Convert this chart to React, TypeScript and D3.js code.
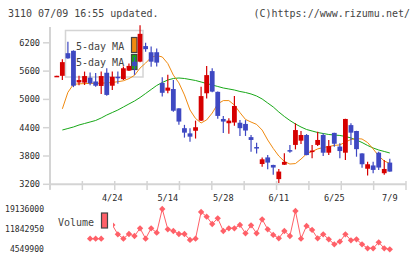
import * as d3 from 'd3';

// daily candles (i = 0 .. 60)
const opens = [5495, 5500, 5980, 6030, 5360, 5355, 5460, 5380, 5285, 5565, 5290, 5480, 5430, 5610, 5800, 5800, 6130, 6000, 6000, 5350, 5185, 5220, 4810, 4390, 4280, 4335, 4550, 5130, 5600, 5160, 4585, 4495, 4510, 4505, 4480, 4200, 3990, 3630, 3770, 3610, 3310, 3615, 3925, 4035, 4125, 4245, 3905, 4035, 4245, 3870, 4290, 4000, 3870, 4455, 4330, 3855, 3530, 3600, 3870, 3435, 3660];
const highs = [5500, 5850, 6220, 6040, 5500, 5590, 5570, 5560, 5590, 5660, 5590, 5590, 5700, 5760, 5900, 6570, 6200, 6120, 6080, 5470, 5520, 5410, 4815, 4460, 4390, 4550, 5270, 5710, 5660, 5165, 4650, 4600, 5070, 4565, 4560, 4245, 4080, 3770, 3820, 3615, 3525, 3860, 4035, 4495, 4330, 4265, 4035, 4315, 4280, 4140, 4295, 4070, 4590, 4495, 4335, 3860, 3680, 3680, 3890, 3715, 3740];
const lows = [5495, 5410, 5860, 5260, 5300, 5305, 5300, 5270, 5115, 5080, 5200, 5330, 5410, 5600, 5520, 5790, 6010, 5690, 5700, 5060, 5130, 4740, 4460, 4190, 4100, 4170, 4540, 5020, 5150, 4590, 4290, 4270, 4440, 4225, 4225, 3890, 3855, 3570, 3520, 3400, 3225, 3610, 3870, 3940, 4055, 3815, 3750, 4010, 3800, 3820, 3995, 3750, 3715, 4035, 3785, 3550, 3385, 3435, 3505, 3400, 3465];
const closes = [5500, 5790, 5870, 5290, 5410, 5495, 5340, 5290, 5495, 5095, 5480, 5470, 5660, 5710, 5710, 6390, 6065, 5800, 5780, 5140, 5250, 4760, 4530, 4295, 4210, 4410, 5070, 5515, 5165, 4650, 4530, 4550, 4860, 4390, 4340, 4140, 3975, 3730, 3660, 3555, 3470, 3675, 3895, 4350, 4245, 3820, 3915, 4140, 3870, 4010, 4060, 3905, 4585, 4295, 3945, 3625, 3625, 3505, 3555, 3525, 3470];

// moving averages as drawn (orange, green)
const maShort = [null, 4800, 5150, 5320, 5330, 5335, 5340, 5340, 5345, 5350, 5360, 5375, 5395, 5440, 5510, 5665, 5770, 5890, 5930, 5900, 5760, 5515, 5350, 5095, 4775, 4595, 4500, 4565, 4710, 4905, 4975, 4975, 4880, 4720, 4575, 4520, 4470, 4350, 4140, 3960, 3800, 3685, 3630, 3640, 3735, 3845, 3895, 3950, 3980, 4000, 4025, 4035, 4095, 4150, 4170, 4160, 4085, 3950, 3800, 3695, 3640];
const maLong = [null, 4351, 4383, 4415, 4457, 4489, 4521, 4553, 4606, 4669, 4722, 4775, 4839, 4903, 4966, 5040, 5125, 5210, 5295, 5358, 5411, 5443, 5454, 5443, 5422, 5401, 5369, 5337, 5305, 5274, 5242, 5221, 5199, 5168, 5146, 5115, 5072, 5009, 4924, 4839, 4733, 4638, 4553, 4479, 4415, 4362, 4330, 4298, 4277, 4256, 4245, 4235, 4214, 4182, 4139, 4086, 4023, 3970, 3927, 3896, 3864];

// volume, first days hidden / missing
const volumes = [null, null, null, null, null, null, 8390000, 8390000, 8390000, null, 13350000, 9980000, 8410000, 10100000, 9370000, 12150000, 8410000, 12150000, 10580000, 19136000, 11790000, 11180000, 10100000, 10100000, 7930000, 8410000, 18060000, 16370000, 13720000, 15770000, 11180000, 12150000, 12150000, 13360000, 10340000, 13240000, 10340000, 15410000, 11790000, 9740000, 8530000, 11180000, 9370000, 18420000, 8410000, 13000000, 11550000, 8530000, 9980000, 8170000, 6360000, 7330000, 9980000, 7810000, 8170000, 6360000, 4910000, 4910000, 7080000, 4910000, 4549900];

const priceTicks = [3200, 3800, 4400, 5000, 5600, 6200];
const dateTickIdx = [10, 20, 30, 40, 50, 60];
const dateTicks = ['4/24', '5/14', '5/28', '6/11', '6/25', '7/9'];
const volumeTicks = [4549900, 11842950, 19136000];

const MONO = "'DejaVu Sans Mono', monospace";
const UP = '#d60000';
const DOWN = '#3e48c2';
const ORANGE = '#f08a10';
const GREEN = '#18a818';
const VOL = '#ff6068';
const AXIS = '#d4d4d4';

export default function App() {
    const x = d3.scaleLinear().domain([0, 60]).range([56.8, 389.8]);
    const y = d3.scaleLinear().domain([3200, 6200]).range([184.3, 42.8]);
    const yVol = d3.scaleLinear().domain([4549900, 19136000]).range([249.3, 209]);
    const xTick = d3.scaleLinear().domain([0, 11]).range([50, 406]);
    const bodyW = 4.8;

    const maLine = d3.line<number | null>()
        .defined(d => d != null)
        .x((_, i) => x(i))
        .y(d => y(d as number));

    const volLine = d3.line<number | null>()
        .defined(d => d != null)
        .x((_, i) => x(i))
        .y(d => yVol(d as number));

    const marker = d3.symbol(d3.symbolSquare, 20)();

    const candles = opens.map((o, i) => {
        const c = closes[i];
        const col = c >= o ? UP : DOWN;
        const top = y(Math.max(o, c));
        const h = Math.max(1.5, y(Math.min(o, c)) - top);
        const cx = x(i);
        return (
            <g key={i}>
                <line x1={cx} x2={cx} y1={y(highs[i])} y2={y(lows[i])} stroke={col} strokeWidth={1.2} />
                <rect x={cx - bodyW / 2} y={top} width={bodyW} height={h} fill={col} />
            </g>
        );
    });

    return (
        <svg width={420} height={259} style={{ position: 'absolute', left: 0, top: 0 }} fontFamily={MONO}>
            <rect width={420} height={259} fill="#fff" />
            <text x={8} y={16.5} fontSize={10} fill="#444">3110 07/09 16:55 updated.</text>
            <text x={410} y={16.5} fontSize={10} fill="#444" textAnchor="end">(C)https://www.rizumu.net/</text>

            {/* axes */}
            <line x1={50} x2={50} y1={27} y2={189.5} stroke={AXIS} strokeWidth={2} />
            <line x1={50} x2={406} y1={184.3} y2={184.3} stroke={AXIS} strokeWidth={2} />
            {d3.range(12).map(k => (
                <line key={k} x1={xTick(k)} x2={xTick(k)} y1={181} y2={190} stroke={AXIS} strokeWidth={1.5} />
            ))}
            {priceTicks.map(v => (
                <g key={v}>
                    <line x1={43} x2={50} y1={y(v)} y2={y(v)} stroke={AXIS} strokeWidth={1.5} />
                    <text x={40} y={y(v)} dy="0.35em" fontSize={8.6} fill="#2a2a2a" textAnchor="end">{v}</text>
                </g>
            ))}
            {dateTickIdx.map((d, k) => (
                <text key={d} x={x(d)} y={200.5} fontSize={8.6} fill="#2a2a2a" textAnchor="middle">{dateTicks[k]}</text>
            ))}

            {/* legend */}
            <rect x={65.5} y={30.5} width={77.5} height={46.5} fill="#fff" stroke={AXIS} strokeWidth={1.5} />
            <text x={76} y={46} dy="0.35em" fontSize={10} fill="#444">5-day MA</text>
            <text x={76} y={62.5} dy="0.35em" fontSize={10} fill="#444">5-day MA</text>
            <rect x={131.5} y={37.5} width={5.5} height={15} fill={ORANGE} stroke="#444" strokeWidth={1.2} />
            <rect x={131.5} y={54.5} width={5.5} height={15} fill={GREEN} stroke="#444" strokeWidth={1.2} />

            <path d={maLine(maLong) ?? ''} fill="none" stroke={GREEN} strokeWidth={1} />
            <path d={maLine(maShort) ?? ''} fill="none" stroke={ORANGE} strokeWidth={1} />
            {candles}

            {/* volume */}
            <path d={volLine(volumes) ?? ''} fill="none" stroke={VOL} strokeWidth={1} />
            {volumes.map((v, i) => v == null ? null : (
                <path key={i} d={marker} transform={`translate(${x(i)},${yVol(v)}) rotate(45)`} fill={VOL} />
            ))}
            <rect x={54} y={205} width={59} height={26} fill="#fff" />
            <text x={58} y={222} dy="0.35em" fontSize={10} fill="#444">Volume</text>
            <rect x={101.5} y={213} width={6} height={15} fill={VOL} stroke="#444" strokeWidth={1.2} />
            {volumeTicks.map(v => (
                <text key={v} x={44} y={yVol(v)} dy="0.35em" fontSize={8.1} fill="#2a2a2a" textAnchor="end">{v}</text>
            ))}
        </svg>
    );
}
